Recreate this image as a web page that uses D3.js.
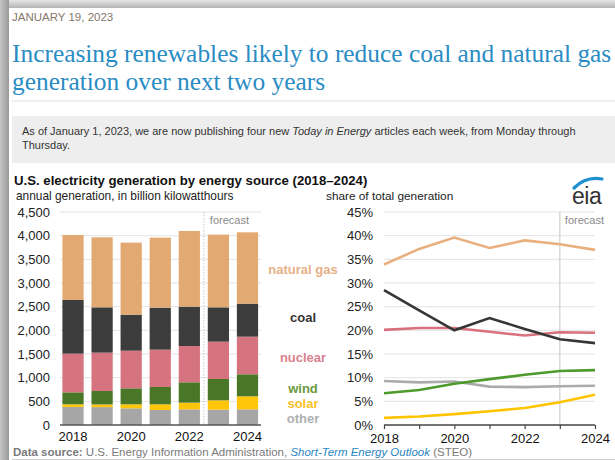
<!DOCTYPE html>
<html>
<head>
<meta charset="utf-8">
<script src="https://cdn.jsdelivr.net/npm/d3@7"></script>
<style>
  html, body { margin: 0; padding: 0; background: #fff; }
  svg { display: block; }
</style>
</head>
<body>
<svg id="chart" width="615" height="460"></svg>
<script>
// Years shown on both panels
const years = [2018, 2019, 2020, 2021, 2022, 2023, 2024];

// Annual generation, billion kWh (stack order bottom → top)
const other      = [380, 378, 352, 317, 331, 324, 331];
const solar      = [57, 56, 85, 120, 141, 197, 275];
const wind       = [253, 285, 338, 366, 430, 451, 465];
const nuclear    = [817, 810, 795, 789, 767, 789, 795];
const coal       = [1134, 957, 761, 887, 831, 725, 698];
const naturalGas = [1374, 1479, 1522, 1479, 1599, 1536, 1507];

// Share of total generation, percent
const shareGas     = [33.9, 37.2, 39.6, 37.4, 39.0, 38.2, 37.0];
const shareCoal    = [28.5, 24.2, 20.0, 22.6, 20.3, 18.1, 17.3];
const shareNuclear = [20.1, 20.5, 20.5, 19.7, 18.9, 19.6, 19.5];
const shareWind    = [6.7, 7.4, 8.7, 9.7, 10.6, 11.4, 11.6];
const shareOther   = [9.3, 9.0, 9.2, 8.1, 8.0, 8.2, 8.3];
const shareSolar   = [1.5, 1.8, 2.3, 2.9, 3.6, 4.8, 6.4];

// Axis ticks
const genTicks   = [0, 500, 1000, 1500, 2000, 2500, 3000, 3500, 4000, 4500];
const shareTicks = [0, 5, 10, 15, 20, 25, 30, 35, 40, 45];
const yearLabels = [2018, 2020, 2022, 2024];
const forecastStart = 2023;

const sources = [
  { key: "other",       label: "other",       gen: other,      share: shareOther,   bar: "#a6a6a6", line: "#ababab", text: "#b0b0b0" },
  { key: "solar",       label: "solar",       gen: solar,      share: shareSolar,   bar: "#ffc60a", line: "#ffc400", text: "#f6c12c" },
  { key: "wind",        label: "wind",        gen: wind,       share: shareWind,    bar: "#4a7628", line: "#4e9a2c", text: "#6b9a3c" },
  { key: "nuclear",     label: "nuclear",     gen: nuclear,    share: shareNuclear, bar: "#d5737f", line: "#d9717d", text: "#d98390" },
  { key: "coal",        label: "coal",        gen: coal,       share: shareCoal,    bar: "#3c3c3c", line: "#363636", text: "#333333" },
  { key: "naturalGas",  label: "natural gas", gen: naturalGas, share: shareGas,     bar: "#e2a972", line: "#e8b07f", text: "#e6b088" }
];

const svg = d3.select("#chart");
const SANS = "'Liberation Sans', Arial, sans-serif";
const SERIF = "'Liberation Serif', 'Times New Roman', serif";

// ---- page frame: shaded edges with white card ----
const defs = svg.append("defs");
const gl = defs.append("linearGradient").attr("id", "shadeL").attr("x1", 0).attr("x2", 1);
gl.append("stop").attr("offset", 0).attr("stop-color", "#c4c4c4");
gl.append("stop").attr("offset", 1).attr("stop-color", "#9a9a9a");
const gt = defs.append("linearGradient").attr("id", "shadeT").attr("x1", 0).attr("x2", 0).attr("y1", 0).attr("y2", 1);
gt.append("stop").attr("offset", 0).attr("stop-color", "#e6e6e6");
gt.append("stop").attr("offset", 1).attr("stop-color", "#b4b4b4");
svg.append("rect").attr("x", 0).attr("y", 0).attr("width", 615).attr("height", 8).attr("fill", "url(#shadeT)");
svg.append("rect").attr("x", 0).attr("y", 0).attr("width", 9).attr("height", 460).attr("fill", "url(#shadeL)");

// ---- header ----
svg.append("text").attr("x", 12).attr("y", 21)
  .attr("font-family", SANS).attr("font-size", 11.5).attr("fill", "#85776a")
  .text("JANUARY 19, 2023");

const titleLines = ["Increasing renewables likely to reduce coal and natural gas", "generation over next two years"];
svg.append("g").selectAll("text").data(titleLines).join("text")
  .attr("x", 12).attr("y", (d, i) => 62 + i * 28)
  .attr("font-family", SERIF).attr("font-size", 25.4).attr("fill", "#2a8cc4")
  .text(d => d);

svg.append("line").attr("x1", 12).attr("x2", 615).attr("y1", 101).attr("y2", 101)
  .attr("stroke", "#dcdcdc").attr("stroke-width", 1);

svg.append("rect").attr("x", 12).attr("y", 116).attr("width", 603).attr("height", 47).attr("fill", "#eeeeee");
const note = svg.append("text").attr("font-family", SANS).attr("font-size", 11).attr("fill", "#333");
note.append("tspan").attr("x", 22).attr("y", 135).text("As of January 1, 2023, we are now publishing four new ");
note.append("tspan").attr("font-style", "italic").text("Today in Energy");
note.append("tspan").text(" articles each week, from Monday through");
svg.append("text").attr("x", 22).attr("y", 149).attr("font-family", SANS).attr("font-size", 11).attr("fill", "#333")
  .text("Thursday.");

svg.append("text").attr("x", 14).attr("y", 185)
  .attr("font-family", SANS).attr("font-size", 13.2).attr("font-weight", "bold").attr("fill", "#111")
  .text("U.S. electricity generation by energy source (2018–2024)");
svg.append("text").attr("x", 16).attr("y", 200)
  .attr("font-family", SANS).attr("font-size", 11.9).attr("fill", "#222")
  .text("annual generation, in billion kilowatthours");
svg.append("text").attr("x", 326).attr("y", 200)
  .attr("font-family", SANS).attr("font-size", 11.8).attr("fill", "#222")
  .text("share of total generation");

// eia mark
const logo = svg.append("g").attr("transform", "translate(571,176)");
logo.append("path").attr("d", "M3,12 Q15,0 31,3").attr("fill", "none").attr("stroke", "#1e90d0").attr("stroke-width", 3.2).attr("stroke-linecap", "round");
logo.append("text").attr("x", 1).attr("y", 28).attr("font-family", SANS).attr("font-size", 23).attr("fill", "#333").attr("letter-spacing", -0.5).text("eia");

// ---- left panel: stacked bars ----
const xL = d3.scaleBand().domain(years).range([59.5, 261]).paddingInner(0.27).paddingOuter(0.1);
const yL = d3.scaleLinear().domain([0, 4500]).range([425, 212]);

const left = svg.append("g");
left.append("g").selectAll("line").data(genTicks.filter(t => t > 0)).join("line")
  .attr("x1", 60).attr("x2", 261).attr("y1", d => yL(d)).attr("y2", d => yL(d))
  .attr("stroke", "#e3e3e3").attr("stroke-width", 1);

const yAxisL = d3.axisLeft(yL).tickValues(genTicks).tickSize(0).tickPadding(10).tickFormat(d3.format(","));
left.append("g").attr("transform", "translate(60,0)").call(yAxisL)
  .call(g => g.select(".domain").remove())
  .call(g => g.selectAll("text").attr("font-family", SANS).attr("font-size", 13).attr("fill", "#222"));

const stack = d3.stack().keys(sources.map(s => s.key))
  .value((d, key) => sources.find(s => s.key === key).gen[d]);
const layers = stack(d3.range(years.length));

left.append("g").selectAll("g").data(layers).join("g")
  .attr("fill", (d, i) => sources[i].bar)
  .selectAll("rect").data(d => d).join("rect")
  .attr("x", (d, j) => xL(years[j]))
  .attr("width", xL.bandwidth())
  .attr("y", d => yL(d[1]))
  .attr("height", d => yL(d[0]) - yL(d[1]));

// forecast divider between 2022 and 2023 bars
const fxL = (xL(2022) + xL.bandwidth() + xL(2023)) / 2;
left.append("line").attr("x1", fxL).attr("x2", fxL).attr("y1", 212).attr("y2", 425)
  .attr("stroke", "#c8c8c8").attr("stroke-width", 1).attr("stroke-dasharray", "1.5,1.5");
left.append("text").attr("x", fxL + 6).attr("y", 224)
  .attr("font-family", SANS).attr("font-size", 11).attr("fill", "#8a8a8a").text("forecast");

const xAxisL = d3.axisBottom(xL).tickValues(yearLabels).tickSize(0).tickPadding(7);
left.append("g").attr("transform", "translate(0,425)").call(xAxisL)
  .call(g => g.select(".domain").attr("stroke", "#555").attr("stroke-width", 1.5).attr("d", "M60,0H261"))
  .call(g => g.selectAll("text").attr("font-family", SANS).attr("font-size", 13).attr("fill", "#111"));

// ---- legend labels between panels ----
const legendY = { naturalGas: 274, coal: 322, nuclear: 362, wind: 393, solar: 408, other: 423 };
svg.append("g").selectAll("text").data(sources).join("text")
  .attr("x", 303).attr("y", d => legendY[d.key]).attr("text-anchor", "middle")
  .attr("font-family", SANS).attr("font-size", 13).attr("font-weight", "bold")
  .attr("fill", d => d.text).text(d => d.label);

// ---- right panel: share lines ----
const xR = d3.scaleLinear().domain([2018, 2024]).range([384, 595]);
const yR = d3.scaleLinear().domain([0, 45]).range([425, 212]);
const right = svg.append("g");

right.append("g").selectAll("line").data(shareTicks.filter(t => t > 0)).join("line")
  .attr("x1", 384).attr("x2", 595).attr("y1", d => yR(d)).attr("y2", d => yR(d))
  .attr("stroke", "#e3e3e3").attr("stroke-width", 1);

right.append("line").attr("x1", xR(forecastStart)).attr("x2", xR(forecastStart)).attr("y1", 212).attr("y2", 425)
  .attr("stroke", "#cfcfcf").attr("stroke-width", 1.2);
right.append("text").attr("x", xR(forecastStart) + 5).attr("y", 224)
  .attr("font-family", SANS).attr("font-size", 11).attr("fill", "#8a8a8a").text("forecast");

const yAxisR = d3.axisLeft(yR).tickValues(shareTicks).tickSize(0).tickPadding(11).tickFormat(d => d + "%");
right.append("g").attr("transform", "translate(384,0)").call(yAxisR)
  .call(g => g.select(".domain").remove())
  .call(g => g.selectAll("text").attr("font-family", SANS).attr("font-size", 13).attr("fill", "#222"));

const line = d3.line().x((d, i) => xR(years[i])).y(d => yR(d));
const drawOrder = ["other", "solar", "wind", "nuclear", "naturalGas", "coal"];
right.append("g").selectAll("path").data(drawOrder.map(k => sources.find(s => s.key === k))).join("path")
  .attr("d", d => line(d.share))
  .attr("fill", "none").attr("stroke", d => d.line).attr("stroke-width", 2.6)
  .attr("stroke-linejoin", "miter");

const xAxisR = d3.axisBottom(xR).tickValues(years).tickSize(4).tickPadding(5)
  .tickFormat(d => yearLabels.includes(d) ? d : "");
right.append("g").attr("transform", "translate(0,425)").call(xAxisR)
  .call(g => g.select(".domain").attr("stroke", "#444").attr("stroke-width", 1.5).attr("d", "M384,0H595"))
  .call(g => g.selectAll(".tick line").attr("stroke", "#444").attr("stroke-width", 1.2))
  .call(g => g.selectAll("text").attr("font-family", SANS).attr("font-size", 13).attr("fill", "#111"));

// ---- source note ----
const src = svg.append("text").attr("x", 13).attr("y", 456).attr("font-family", SANS).attr("font-size", 11.5).attr("fill", "#7a7a7a");
src.append("tspan").attr("font-weight", "bold").text("Data source:");
src.append("tspan").text(" U.S. Energy Information Administration, ");
src.append("tspan").attr("font-style", "italic").attr("fill", "#2a86c2").text("Short-Term Energy Outlook");
src.append("tspan").text(" (STEO)");
svg.append("line").attr("x1", 12).attr("x2", 615).attr("y1", 459.5).attr("y2", 459.5).attr("stroke", "#cfcfcf");
</script>
</body>
</html>
